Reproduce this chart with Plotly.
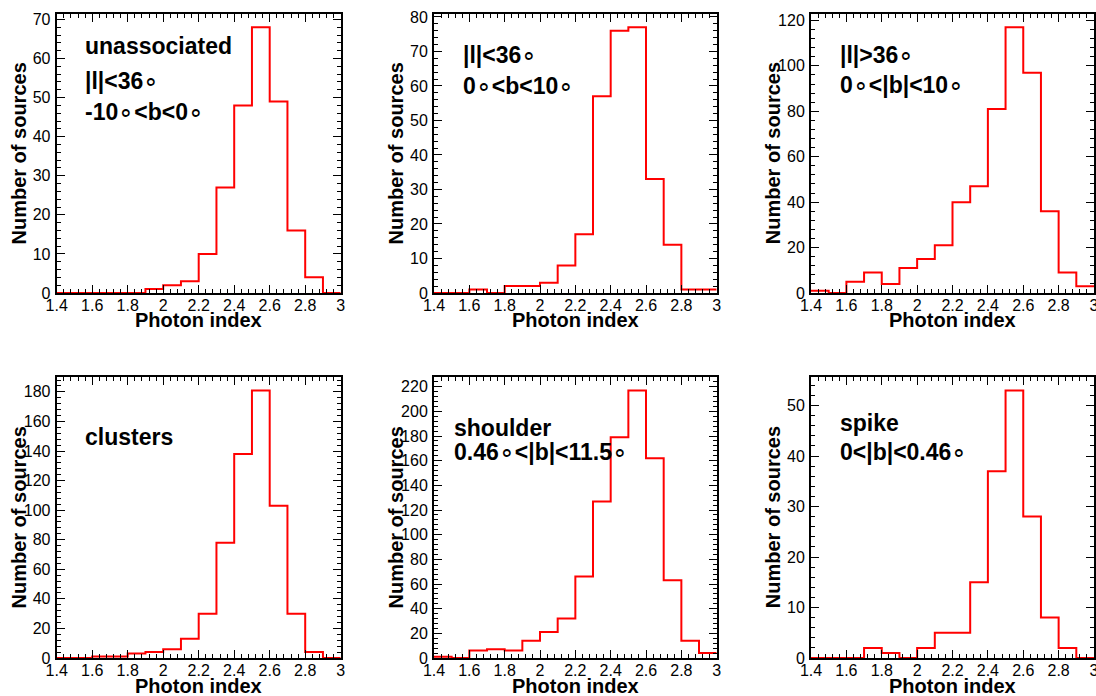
import plotly.graph_objects as go

# ---------------- data ----------------
bin_edges = [1.4, 1.5, 1.6, 1.7, 1.8, 1.9, 2.0, 2.1, 2.2, 2.3, 2.4, 2.5, 2.6, 2.7, 2.8, 2.9, 3.0]

counts_unassociated = [0, 0, 0, 0, 0, 1, 2, 3, 10, 27, 48, 68, 49, 16, 4, 0]
counts_l_lt36_bpos = [0, 0, 1, 0, 2, 2, 3, 8, 17, 57, 76, 77, 33, 14, 1, 1]
counts_l_gt36 = [1, 0, 5, 9, 4, 11, 15, 21, 40, 47, 81, 117, 97, 36, 9, 3]
counts_clusters = [0, 0, 1, 1, 3, 4, 6, 13, 30, 78, 138, 181, 103, 30, 4, 0]
counts_shoulder = [1, 0, 6, 7, 6, 14, 21, 32, 66, 127, 179, 217, 162, 63, 14, 4]
counts_spike = [0, 0, 0, 2, 1, 0, 2, 5, 5, 15, 37, 53, 28, 8, 2, 0]

x_tick_vals = [1.4, 1.6, 1.8, 2.0, 2.2, 2.4, 2.6, 2.8, 3.0]
x_tick_text = ["1.4", "1.6", "1.8", "2", "2.2", "2.4", "2.6", "2.8", "3"]

DEG = '<span style="font-weight:normal;font-size:25px">∘</span>'
panel_labels = [
    ["unassociated", "|l|<36" + DEG, "-10" + DEG + "<b<0" + DEG],
    ["|l|<36" + DEG, "0" + DEG + "<b<10" + DEG],
    ["|l|>36" + DEG, "0" + DEG + "<|b|<10" + DEG],
    ["clusters"],
    ["shoulder", "0.46" + DEG + "<|b|<11.5" + DEG],
    ["spike", "0<|b|<0.46" + DEG],
]
panel_counts = [counts_unassociated, counts_l_lt36_bpos, counts_l_gt36,
                counts_clusters, counts_shoulder, counts_spike]
y_dticks = [10, 10, 20, 20, 20, 10]

x_title = "Photon index"
y_title = "Number of sources"

# ---------------- layout geometry (pixels) ----------------
W, H = 1096, 696
col_px = [(56.7, 340.7), (434.0, 716.7), (811.0, 1094.0)]
row_px = [(14.0, 293.0), (377.0, 658.0)]
ytitle_x_px = [18.0, 395.0, 772.7]
xtitle_y_px = [320.0, 686.0]
# annotation anchors: (left x px, [centre y px for each line])
label_pos = [
    (83.0, [45.7, 79.5, 111.0]),
    (460.7, [53.5, 85.0]),
    (837.7, [53.5, 84.0]),
    (83.0, [437.0]),
    (451.7, [427.7, 450.5]),
    (837.7, [423.3, 450.5]),
]

FONT = "Liberation Sans, Arial, Helvetica, sans-serif"

fig = go.Figure()
annotations = []

for i in range(6):
    r, c = divmod(i, 3)
    ax_suffix = "" if i == 0 else str(i + 1)
    xa = "xaxis" + ax_suffix
    ya = "yaxis" + ax_suffix
    counts = panel_counts[i]
    fig.add_trace(go.Scatter(
        x=bin_edges,
        y=counts + [counts[-1]],
        mode="lines",
        line=dict(color="#ff0000", width=2, shape="hv"),
        xaxis="x" + ax_suffix, yaxis="y" + ax_suffix,
        showlegend=False, hoverinfo="skip",
    ))
    x0, x1 = col_px[c]
    y0, y1 = row_px[r]
    ymax = 1.05 * max(counts)
    dt = y_dticks[i]
    fig.layout[xa] = dict(
        domain=[x0 / W, x1 / W], anchor="y" + ax_suffix,
        range=[bin_edges[0], bin_edges[-1]],
        tickvals=x_tick_vals, ticktext=x_tick_text,
        ticks="inside", ticklen=8, tickwidth=1, tickcolor="black",
        minor=dict(dtick=0.04, tick0=1.4, ticks="inside", ticklen=4, tickcolor="black", tickwidth=1),
        showline=True, linewidth=2, linecolor="black", mirror="ticks",
        showgrid=False, zeroline=False, automargin=False,
        tickfont=dict(family=FONT, size=16, color="black"),
        ticklabelstandoff=-3, ticklabeloverflow="allow",
    )
    fig.layout[ya] = dict(
        domain=[1 - y1 / H, 1 - y0 / H], anchor="x" + ax_suffix,
        range=[0, ymax], dtick=dt, tick0=0,
        ticks="inside", ticklen=8, tickwidth=1, tickcolor="black",
        minor=dict(dtick=dt / 5, ticks="inside", ticklen=4, tickcolor="black", tickwidth=1),
        showline=True, linewidth=2, linecolor="black", mirror="ticks",
        showgrid=False, zeroline=False, automargin=False,
        tickfont=dict(family=FONT, size=16, color="black"),
        ticklabelstandoff=1, ticklabeloverflow="allow",
    )
    # axis titles
    annotations.append(dict(
        text=y_title, textangle=-90, xref="paper", yref="paper",
        x=ytitle_x_px[c] / W, y=1 - (y0 + y1) / 2 / H,
        xanchor="center", yanchor="middle", showarrow=False,
        font=dict(family=FONT, size=20, color="black", weight="bold"),
    ))
    annotations.append(dict(
        text=x_title, xref="paper", yref="paper",
        x=(x0 + x1) / 2 / W, y=1 - xtitle_y_px[r] / H,
        xanchor="center", yanchor="middle", showarrow=False,
        font=dict(family=FONT, size=20, color="black", weight="bold"),
    ))
    lx, lys = label_pos[i]
    for txt, ly in zip(panel_labels[i], lys):
        annotations.append(dict(
            text=txt, xref="paper", yref="paper",
            x=lx / W, y=1 - ly / H, xanchor="left", yanchor="middle",
            showarrow=False,
            font=dict(family=FONT, size=23, color="black", weight="bold"),
        ))

fig.update_layout(
    width=W, height=H,
    margin=dict(l=0, r=0, t=0, b=0, pad=0, autoexpand=False),
    paper_bgcolor="white", plot_bgcolor="white",
    annotations=annotations,
    showlegend=False,
)

fig.write_html("out.html", config={"displayModeBar": False},
               post_script="document.body.style.margin='0';")
